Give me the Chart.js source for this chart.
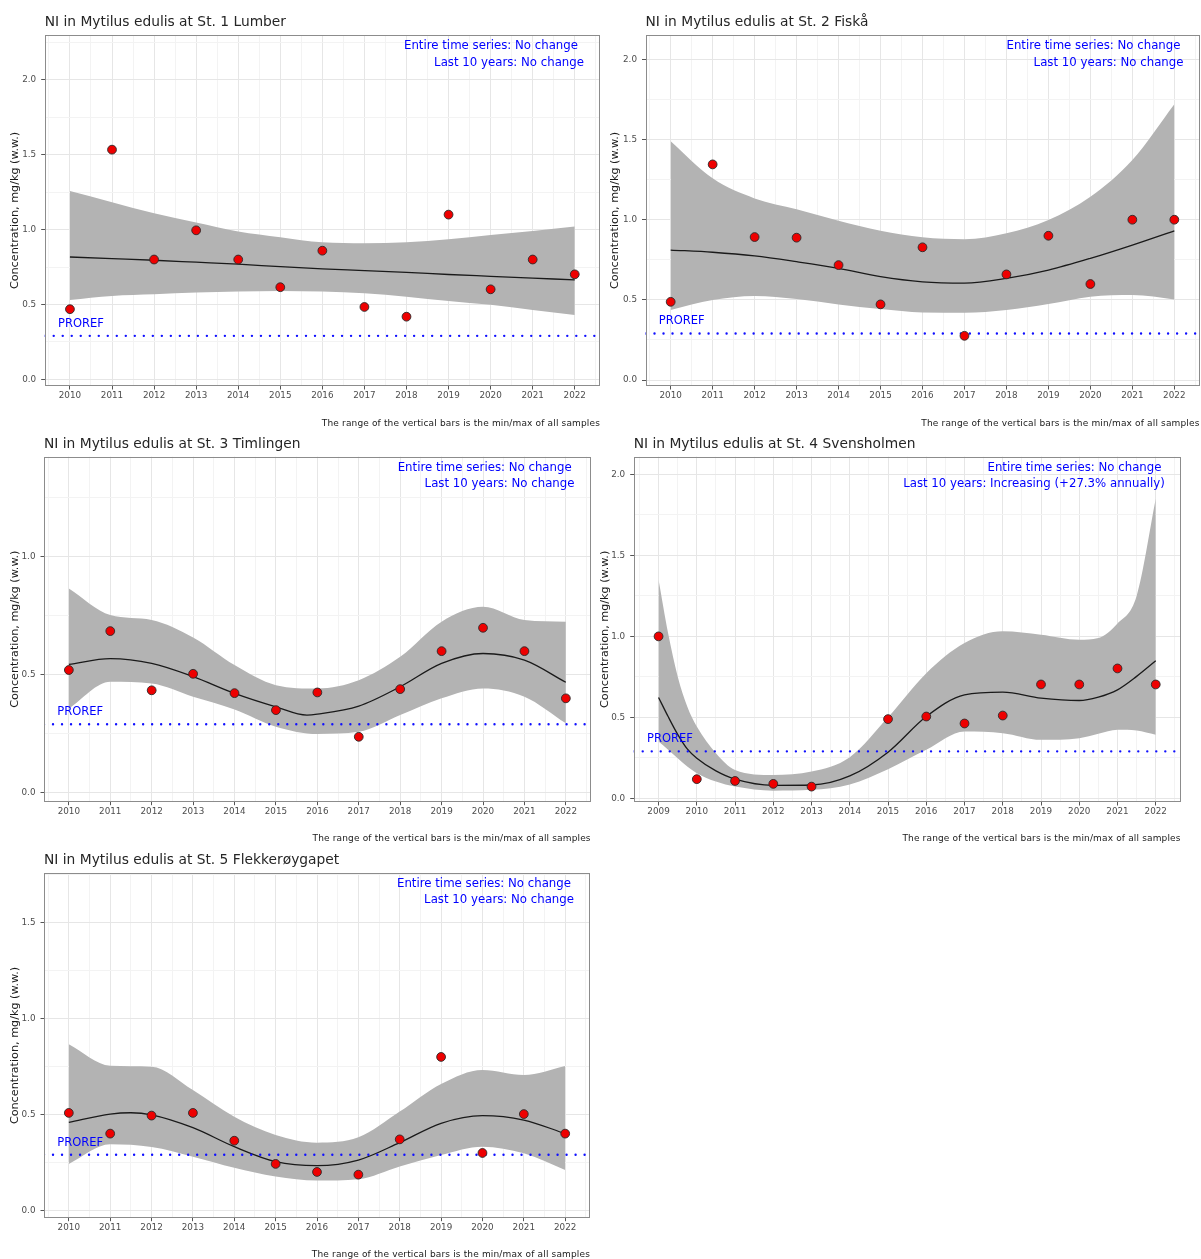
<!DOCTYPE html>
<html><head><meta charset="utf-8">
<script src="https://cdn.jsdelivr.net/npm/chart.js@4.4.1/dist/chart.umd.min.js"></script>
<style>
body{margin:0;background:#fff;}
#wrap{position:relative;width:1201px;height:1259px;overflow:hidden;font-family:'DejaVu Sans',sans-serif;background:#fff;}
canvas{position:absolute;}
.t{position:absolute;white-space:nowrap;line-height:1.2;}
.title{font-size:13.8px;color:#262626;}
.ann{font-size:11.75px;color:#0000ff;transform:translateX(-100%);}
.cap{font-size:9px;letter-spacing:0.15px;color:#1a1a1a;transform:translateX(-100%);}
.pr{font-size:11.5px;color:#0000ff;}
</style></head>
<body><div id="wrap"></div>
<script>
// ---------------- DATA ----------------
const PROREF = 0.29;
const yTitle = 'Concentration, mg/kg (w.w.)';
const caption = 'The range of the vertical bars is the min/max of all samples';

// St. 1 Lumber
const title1 = 'NI in Mytilus edulis at St. 1 Lumber';
const years1 = [2010,2011,2012,2013,2014,2015,2016,2017,2018,2019,2020,2021,2022];
const conc1  = [0.468,1.534,0.800,0.995,0.800,0.615,0.859,0.483,0.418,1.100,0.601,0.800,0.701];
const fitX1  = [2010,2011,2012,2013,2014,2015,2016,2017,2018,2019,2020,2021,2022];
const fit1   = [0.817,0.806,0.795,0.782,0.769,0.752,0.737,0.726,0.714,0.700,0.688,0.676,0.664];
const bandX1 = [2010,2011,2012,2013,2014,2015,2016,2017,2018,2019,2020,2021,2022];
const up1    = [1.258,1.183,1.109,1.047,0.987,0.949,0.915,0.909,0.915,0.935,0.964,0.991,1.020];
const low1   = [0.530,0.557,0.568,0.579,0.586,0.590,0.586,0.575,0.552,0.523,0.497,0.463,0.430];
const xTicks1 = [2010,2011,2012,2013,2014,2015,2016,2017,2018,2019,2020,2021,2022];
const yTicks1 = [0.0,0.5,1.0,1.5,2.0];
const trend1 = ['Entire time series: No change','Last 10 years: No change'];

// St. 2 Fiskå
const title2 = 'NI in Mytilus edulis at St. 2 Fiskå';
const years2 = [2010,2011,2012,2013,2014,2015,2016,2017,2018,2019,2020,2021,2022];
const conc2  = [0.488,1.345,0.892,0.888,0.717,0.472,0.828,0.276,0.659,0.900,0.599,1.000,1.000];
const fitX2  = [2010,2011,2012,2013,2014,2015,2016,2017,2018,2019,2020,2021,2022];
const fit2   = [0.811,0.797,0.774,0.738,0.697,0.645,0.613,0.605,0.634,0.686,0.759,0.842,0.931];
const bandX2 = [2010,2011,2012,2013,2014,2015,2016,2017,2018,2019,2020,2021,2022];
const up2    = [1.490,1.258,1.133,1.065,0.994,0.931,0.890,0.878,0.915,0.998,1.143,1.372,1.720];
const low2   = [0.437,0.499,0.524,0.505,0.472,0.443,0.422,0.420,0.437,0.474,0.520,0.530,0.503];
const xTicks2 = [2010,2011,2012,2013,2014,2015,2016,2017,2018,2019,2020,2021,2022];
const yTicks2 = [0.0,0.5,1.0,1.5,2.0];
const trend2 = ['Entire time series: No change','Last 10 years: No change'];

// St. 3 Timlingen
const title3 = 'NI in Mytilus edulis at St. 3 Timlingen';
const years3 = [2010,2011,2012,2013,2014,2015,2016,2017,2018,2019,2020,2021,2022];
const conc3  = [0.520,0.685,0.434,0.504,0.422,0.350,0.425,0.237,0.439,0.600,0.699,0.600,0.400];
const fitX3  = [2010,2011,2012,2013,2014,2015,2015.75,2016,2017,2018,2019,2020,2021,2022];
const fit3   = [0.544,0.568,0.548,0.492,0.421,0.364,0.329,0.333,0.367,0.449,0.548,0.590,0.562,0.468];
const bandX3 = [2010,2011,2012,2013,2014,2015,2016,2017,2018,2019,2020,2021,2022];
const up3    = [0.866,0.753,0.732,0.658,0.541,0.456,0.442,0.477,0.576,0.725,0.788,0.732,0.725];
const low3   = [0.357,0.470,0.463,0.407,0.353,0.280,0.249,0.258,0.329,0.400,0.442,0.407,0.294];
const xTicks3 = [2010,2011,2012,2013,2014,2015,2016,2017,2018,2019,2020,2021,2022];
const yTicks3 = [0.0,0.5,1.0];
const trend3 = ['Entire time series: No change','Last 10 years: No change'];

// St. 4 Svensholmen
const title4 = 'NI in Mytilus edulis at St. 4 Svensholmen';
const years4 = [2009,2010,2011,2012,2013,2015,2016,2017,2018,2019,2020,2021,2022];
const conc4  = [1.000,0.118,0.107,0.089,0.072,0.489,0.505,0.462,0.511,0.703,0.703,0.802,0.703];
const fitX4  = [2009,2009.25,2009.5,2009.75,2010,2010.5,2011,2012,2013,2014,2015,2016,2017,2018,2019,2020,2020.5,2021,2021.5,2022];
const fit4   = [0.623,0.505,0.395,0.305,0.247,0.169,0.118,0.080,0.082,0.138,0.285,0.505,0.639,0.656,0.619,0.604,0.625,0.670,0.753,0.849];
const bandX4 = [2009,2009.25,2009.5,2009.75,2010,2010.5,2011,2012,2013,2014,2015,2016,2017,2018,2019,2020,2020.5,2021,2021.5,2022];
const up4    = [1.350,1.020,0.753,0.567,0.443,0.278,0.175,0.144,0.165,0.254,0.500,0.773,0.959,1.031,1.010,0.979,0.990,1.080,1.250,1.850];
const low4   = [0.350,0.299,0.247,0.196,0.155,0.103,0.072,0.047,0.052,0.085,0.180,0.299,0.412,0.402,0.361,0.371,0.398,0.423,0.418,0.392];
const xTicks4 = [2009,2010,2011,2012,2013,2014,2015,2016,2017,2018,2019,2020,2021,2022];
const yTicks4 = [0.0,0.5,1.0,1.5,2.0];
const trend4 = ['Entire time series: No change','Last 10 years: Increasing (+27.3% annually)'];

// St. 5 Flekkerøygapet
const title5 = 'NI in Mytilus edulis at St. 5 Flekkerøygapet';
const years5 = [2010,2011,2012,2013,2014,2015,2016,2017,2018,2019,2020,2021,2022];
const conc5  = [0.508,0.400,0.494,0.508,0.363,0.242,0.200,0.186,0.370,0.800,0.299,0.502,0.400];
const fitX5  = [2010,2011,2011.5,2012,2013,2014,2015,2016,2017,2018,2019,2020,2021,2022];
const fit5   = [0.459,0.502,0.509,0.498,0.431,0.332,0.254,0.233,0.262,0.353,0.454,0.494,0.471,0.400];
const bandX5 = [2010,2011,2012,2013,2014,2015,2016,2017,2018,2019,2020,2021,2022];
const up5    = [0.866,0.754,0.749,0.627,0.488,0.393,0.353,0.381,0.515,0.659,0.732,0.706,0.753];
const low5   = [0.242,0.344,0.330,0.280,0.222,0.176,0.155,0.162,0.228,0.289,0.332,0.297,0.210];
const xTicks5 = [2010,2011,2012,2013,2014,2015,2016,2017,2018,2019,2020,2021,2022];
const yTicks5 = [0.0,0.5,1.0,1.5];
const trend5 = ['Entire time series: No change','Last 10 years: No change'];

// ---------------- LAYOUT ----------------
const panels = [
  {title:title1, years:years1, conc:conc1, fitX:fitX1, fit:fit1, bandX:bandX1, up:up1, low:low1, xTicks:xTicks1, yTicks:yTicks1, trend:trend1,
   xr:[2009.4,2022.6], yr:[-0.045,2.30],
   box:{left:0,top:0,w:602,h:430}, area:{l:44.7,t:35,r:600,b:386}, yTitleC:14.8, titleCy:21,
   ann:[{rx:578,cy:45},{rx:584,cy:62.3}], capCy:423.3},
  {title:title2, years:years2, conc:conc2, fitX:fitX2, fit:fit2, bandX:bandX2, up:up2, low:low2, xTicks:xTicks2, yTicks:yTicks2, trend:trend2,
   xr:[2009.4,2022.6], yr:[-0.037,2.152],
   box:{left:600,top:0,w:601,h:430}, area:{l:645.5,t:35,r:1199.5,b:386}, yTitleC:614.6, titleCy:21,
   ann:[{rx:1180.5,cy:45},{rx:1183.5,cy:62.3}], capCy:423.3},
  {title:title3, years:years3, conc:conc3, fitX:fitX3, fit:fit3, bandX:bandX3, up:up3, low:low3, xTicks:xTicks3, yTicks:yTicks3, trend:trend3,
   xr:[2009.4,2022.6], yr:[-0.038,1.424],
   box:{left:0,top:430,w:600,h:415}, area:{l:44,t:456.7,r:590.7,b:801.7}, yTitleC:14.8, titleCy:442.8,
   ann:[{rx:571.7,cy:467},{rx:574.5,cy:483}], capCy:838},
  {title:title4, years:years4, conc:conc4, fitX:fitX4, fit:fit4, bandX:bandX4, up:up4, low:low4, xTicks:xTicks4, yTicks:yTicks4, trend:trend4,
   xr:[2008.35,2022.65], yr:[-0.023,2.11],
   box:{left:595,top:430,w:606,h:415}, area:{l:633.7,t:456.7,r:1180.6,b:802}, yTitleC:604.7, titleCy:442.8,
   ann:[{rx:1161.5,cy:467},{rx:1164.8,cy:483}], capCy:838},
  {title:title5, years:years5, conc:conc5, fitX:fitX5, fit:fit5, bandX:bandX5, up:up5, low:low5, xTicks:xTicks5, yTicks:yTicks5, trend:trend5,
   xr:[2009.4,2022.6], yr:[-0.0386,1.758],
   box:{left:0,top:845,w:600,h:414}, area:{l:44,t:873.3,r:590,b:1217.7}, yTitleC:14.8, titleCy:859,
   ann:[{rx:571,cy:882.5},{rx:574,cy:899}], capCy:1253.8}
];

Chart.defaults.font.family = "'DejaVu Sans', sans-serif";
const wrap = document.getElementById('wrap');
const XH = 20; // fixed x-axis height
const MAJ = '#e6e6e6', MIN = '#f3f3f3';

function withMinor(major, step, lo, hi){
  const s = new Set();
  major.forEach(m => [m - step/2, m, m + step/2].forEach(v => { if (v >= lo && v <= hi) s.add(Math.round(v*1000)/1000); }));
  return [...s].sort((a,b)=>a-b);
}
const isMaj = (v, major) => major.some(m => Math.abs(m - v) < 1e-6);
const pts = (xs, ys) => xs.map((x,i) => ({x, y: ys[i]}));

function addText(cls, txt, left, top){
  const d = document.createElement('div');
  d.className = 't ' + cls; d.textContent = txt;
  d.style.left = left + 'px'; d.style.top = top + 'px';
  wrap.appendChild(d); return d;
}

const frame = {
  id:'frame',
  afterDraw(chart){
    const {ctx, chartArea:a} = chart;
    ctx.save(); ctx.strokeStyle = '#8c8c8c'; ctx.lineWidth = 1;
    ctx.strokeRect(Math.round(a.left)+0.5, Math.round(a.top)+0.5, Math.round(a.right)-Math.round(a.left)-1, Math.round(a.bottom)-Math.round(a.top)-1);
    ctx.restore();
  }
};

panels.forEach(p => {
  const b = p.box, a = p.area;
  const cv = document.createElement('canvas');
  cv.width = b.w; cv.height = b.h;
  cv.style.left = b.left + 'px'; cv.style.top = b.top + 'px';
  cv.style.width = b.w + 'px'; cv.style.height = b.h + 'px';
  wrap.appendChild(cv);

  const xAll = withMinor(p.xTicks, 1, p.xr[0], p.xr[1]);
  const yAll = withMinor(p.yTicks, 0.5, p.yr[0], p.yr[1]);
  const padTop = a.t - b.top;
  const padRight = b.w - (a.r - b.left);
  const padBottom = b.h - (a.b - b.top) - XH;
  const yW = a.l - b.left;

  const chart = new Chart(cv, {
    type:'line',
    data:{ datasets:[
      {data:pts(p.bandX, p.low), borderWidth:0, pointRadius:0, fill:false, order:4, cubicInterpolationMode:'monotone', borderColor:'rgba(0,0,0,0)'},
      {data:pts(p.bandX, p.up), borderWidth:0, pointRadius:0, fill:'-1', backgroundColor:'#b3b3b3', order:3, cubicInterpolationMode:'monotone', borderColor:'rgba(0,0,0,0)'},
      {data:pts(p.fitX, p.fit), borderColor:'#1a1a1a', borderWidth:1.3, pointRadius:0, fill:false, order:2, cubicInterpolationMode:'monotone'},
      {data:[{x:p.xr[0], y:PROREF},{x:p.xr[1], y:PROREF}], borderColor:'#1010ff', borderWidth:2.4, borderDash:[0.01,9], borderCapStyle:'round', pointRadius:0, fill:false, order:1},
      {data:pts(p.years, p.conc), showLine:false, pointRadius:4.4, pointBackgroundColor:'#ee0000', pointBorderColor:'#2a2a2a', pointBorderWidth:0.9, order:0}
    ]},
    options:{
      responsive:false, animation:false, devicePixelRatio:1, events:[],
      layout:{autoPadding:false, padding:{left:0, top:padTop, right:padRight, bottom:padBottom}},
      plugins:{legend:{display:false}, tooltip:{enabled:false}, title:{display:false}},
      scales:{
        x:{type:'linear', min:p.xr[0], max:p.xr[1],
          afterBuildTicks:s => { s.ticks = xAll.map(v => ({value:v})); },
          afterFit:s => { s.height = XH; },
          border:{display:false},
          grid:{color:c => (c.tick && isMaj(c.tick.value, p.xTicks)) ? MAJ : MIN, lineWidth:1, tickLength:3.5,
                tickColor:c => (c.tick && isMaj(c.tick.value, p.xTicks)) ? '#555' : 'rgba(0,0,0,0)'},
          ticks:{autoSkip:false, maxRotation:0, minRotation:0, padding:1, color:'#4d4d4d', font:{size:8.8},
                 callback:v => isMaj(v, p.xTicks) ? String(Math.round(v)) : ''}
        },
        y:{type:'linear', min:p.yr[0], max:p.yr[1],
          afterBuildTicks:s => { s.ticks = yAll.map(v => ({value:v})); },
          afterFit:s => { s.width = yW; },
          border:{display:false},
          grid:{color:c => (c.tick && isMaj(c.tick.value, p.yTicks)) ? MAJ : MIN, lineWidth:1, tickLength:3.5,
                tickColor:c => (c.tick && isMaj(c.tick.value, p.yTicks)) ? '#555' : 'rgba(0,0,0,0)'},
          ticks:{autoSkip:false, padding:5, color:'#4d4d4d', font:{size:8.8},
                 callback:v => isMaj(v, p.yTicks) ? v.toFixed(1) : ''},
          title:{display:true, text:yTitle, color:'#1a1a1a', font:{size:11.2}, padding:{top:p.yTitleC - b.left - 6.72, bottom:0}}
        }
      }
    },
    plugins:[frame]
  });

  addText('title', p.title, a.l, p.titleCy - 0.581*13.8);
  p.trend.forEach((txt, i) => addText('ann', txt, p.ann[i].rx, p.ann[i].cy - 0.581*11.75));
  addText('cap', caption, a.r, p.capCy - 0.581*9);
  const py = chart.scales.y.getPixelForValue(PROREF) + b.top;
  addText('pr', 'PROREF', chart.chartArea.left + b.left + 13.3, py - 12.5 - 0.581*11.5);
});
</script>
</body></html>
